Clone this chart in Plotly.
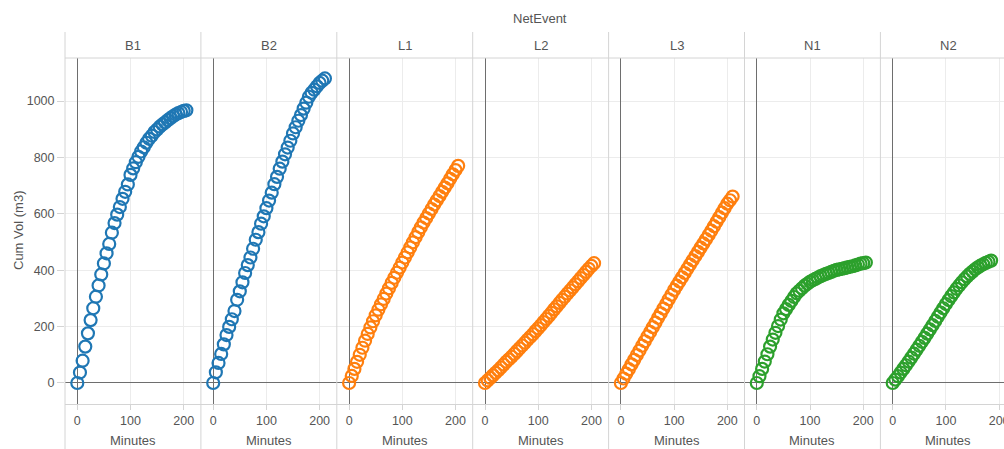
import plotly.graph_objects as go

# Cumulative volume per net event, sampled every 5 minutes
panels = ["B1", "B2", "L1", "L2", "L3", "N1", "N2"]

minutes = [0, 5, 10, 15, 20, 25, 30, 35, 40, 45, 50, 55, 60, 65, 70, 75, 80, 85,
           90, 95, 100, 105, 110, 115, 120, 125, 130, 135, 140, 145, 150, 155, 160,
           165, 170, 175, 180, 185, 190, 195, 200, 205, 210]

vol_b1 = [0, 37, 79, 129, 176, 223, 265, 306, 346, 385, 424, 460, 493, 533, 567, 597,
          624, 653, 678, 704, 738, 761, 783, 802, 821, 836, 852, 866, 877, 890, 899,
          909, 917, 924, 932, 939, 946, 952, 957, 961, 965, 967]
vol_b2 = [0, 38, 71, 103, 137, 170, 199, 226, 255, 295, 325, 357, 390, 418, 445, 476,
          508, 535, 565, 591, 620, 647, 675, 705, 731, 760, 785, 811, 835, 859, 885,
          907, 930, 950, 973, 994, 1015, 1029, 1040, 1052, 1064, 1072, 1080]
vol_l1 = [0, 25, 50, 75, 100, 125, 150, 174, 197, 219, 240, 260, 279, 298, 317, 336,
          355, 373, 391, 409, 427, 445, 463, 481, 499, 517, 535, 552, 569, 585, 601,
          617, 633, 648, 663, 678, 693, 708, 724, 740, 755, 770]
vol_l2 = [0, 9, 18, 27, 36, 45, 55, 65, 75, 84, 93, 103, 113, 123, 133, 143, 153, 163,
          173, 184, 194, 205, 216, 227, 238, 249, 261, 272, 284, 295, 306, 317, 328,
          339, 350, 361, 372, 383, 394, 405, 415, 425]
vol_l3 = [0, 16, 33, 49, 66, 82, 99, 115, 132, 148, 165, 181, 198, 214, 231, 247, 264,
          280, 297, 313, 330, 345, 360, 375, 390, 405, 420, 435, 450, 465, 480, 495,
          510, 525, 540, 556, 572, 588, 604, 620, 636, 648, 661]
vol_n1 = [0, 24, 50, 76, 102, 129, 154, 178, 202, 225, 247, 262, 277, 291, 305, 318,
          327, 336, 345, 352, 359, 364, 369, 374, 379, 383, 387, 390, 394, 398, 401,
          403, 405, 407, 410, 412, 414, 417, 420, 423, 425, 427]
vol_n2 = [0, 12, 24, 37, 50, 63, 76, 90, 104, 118, 132, 146, 160, 175, 190, 205, 220,
          235, 250, 265, 280, 294, 308, 321, 334, 346, 357, 368, 378, 387, 395, 403,
          410, 416, 421, 426, 430, 434]

volumes = [vol_b1, vol_b2, vol_l1, vol_l2, vol_l3, vol_n1, vol_n2]
group_colors = {"B": "#1f77b4", "L": "#ff7f0e", "N": "#2ca02c"}

y_ticks = [0, 200, 400, 600, 800, 1000]
x_ticks = [0, 100, 200]

# page geometry (pixels)
W, H = 1004, 449
ML, MT, MB = 65, 58, 45
PW, PH = W - ML, H - MT - MB
panel_w = 135.9
x_zero_off = 12.3
px_per_min = 0.532

FONT = "Liberation Sans, Arial, sans-serif"
TXT = "#555555"
GRID = "#ececec"
ZERO = "#6e6e6e"
FRAME = "#d4d4d4"


def px_x(p):
    return (p - ML) / PW


def px_y(p):
    return (H - MB - p) / PH


fig = go.Figure()
shapes = []
annotations = []

for i, (name, vol) in enumerate(zip(panels, volumes)):
    left = ML + i * panel_w
    right = min(left + panel_w, W)
    xa = "x" if i == 0 else f"x{i + 1}"
    ya = "y" if i == 0 else f"y{i + 1}"
    fig.add_trace(go.Scatter(
        x=minutes[:len(vol)], y=vol, mode="markers",
        xaxis=xa, yaxis=ya, showlegend=False,
        marker=dict(symbol="circle-open", size=12, color=group_colors[name[0]],
                    line=dict(width=2.2, color=group_colors[name[0]])),
        cliponaxis=False,
    ))
    lo = -x_zero_off / px_per_min
    hi = lo + (right - left) / px_per_min
    xkey = "xaxis" if i == 0 else f"xaxis{i + 1}"
    ykey = "yaxis" if i == 0 else f"yaxis{i + 1}"
    fig.update_layout(**{
        xkey: dict(domain=[px_x(left), px_x(right)], range=[lo, hi], anchor=ya,
                   automargin=False,
                   tickvals=x_ticks, showgrid=True, gridcolor=GRID,
                   zeroline=True, zerolinecolor=ZERO, zerolinewidth=1,
                   showline=True, linecolor=FRAME, linewidth=1,
                   ticks="outside", ticklen=5, tickcolor=FRAME,
                   ticklabeloverflow="allow",
                   tickfont=dict(family=FONT, size=12.5, color=TXT)),
        ykey: dict(domain=[0, 1], range=[-74.5, 1152.5], anchor=xa,
                   automargin=False,
                   tickvals=y_ticks, showticklabels=(i == 0),
                   showgrid=True, gridcolor=GRID,
                   zeroline=True, zerolinecolor=ZERO, zerolinewidth=1,
                   showline=False,
                   ticks="outside" if i == 0 else "", ticklen=7, tickcolor=FRAME,
                   tickfont=dict(family=FONT, size=12.5, color=TXT)),
    })
    # facet header label and axis title
    annotations.append(dict(text=name, xref="paper", yref="paper",
                            x=px_x((left + left + panel_w) / 2), y=px_y(45),
                            xanchor="center", yanchor="middle", showarrow=False,
                            font=dict(family=FONT, size=13, color=TXT)))
    annotations.append(dict(text="Minutes", xref="paper", yref="paper",
                            x=px_x((left + left + panel_w) / 2), y=px_y(440),
                            xanchor="center", yanchor="middle", showarrow=False,
                            font=dict(family=FONT, size=13, color=TXT)))
    # panel separator
    shapes.append(dict(type="line", xref="paper", yref="paper",
                       x0=px_x(left), x1=px_x(left), y0=px_y(32), y1=px_y(H),
                       line=dict(color=FRAME, width=1)))

# header bottom rule
shapes.append(dict(type="line", xref="paper", yref="paper",
                   x0=px_x(ML), x1=1, y0=1, y1=1,
                   line=dict(color=FRAME, width=1)))

annotations.append(dict(text="NetEvent", xref="paper", yref="paper",
                        x=px_x(540), y=px_y(19), xanchor="center", yanchor="middle",
                        showarrow=False, font=dict(family=FONT, size=13, color=TXT)))
annotations.append(dict(text="Cum Vol (m3)", xref="paper", yref="paper",
                        x=px_x(18), y=px_y(231), xanchor="center", yanchor="middle",
                        textangle=-90, showarrow=False,
                        font=dict(family=FONT, size=13, color=TXT)))

fig.update_layout(
    width=W, height=H,
    margin=dict(l=ML, r=0, t=MT, b=MB, pad=0, autoexpand=False),
    paper_bgcolor="white", plot_bgcolor="white",
    shapes=shapes, annotations=annotations,
    font=dict(family=FONT, color=TXT),
)

fig.write_html("out.html")
